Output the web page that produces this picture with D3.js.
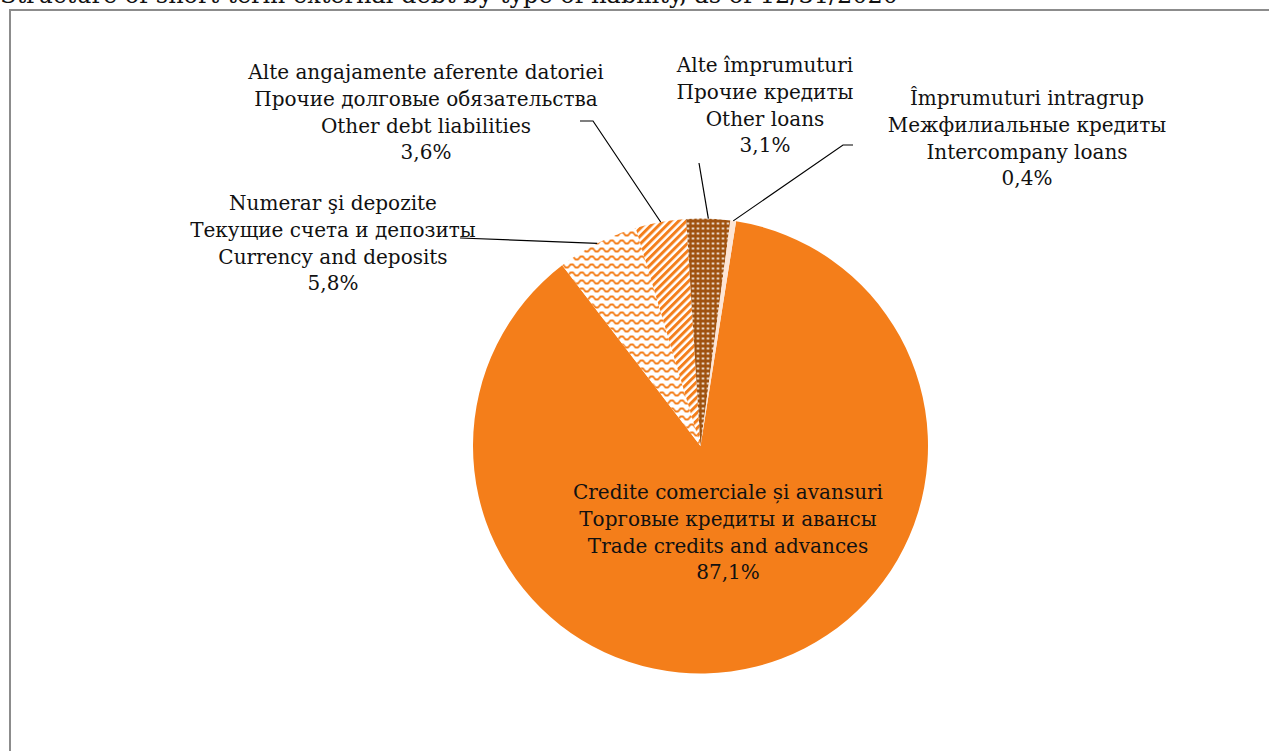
<!DOCTYPE html>
<html>
<head>
<meta charset="utf-8">
<script src="https://cdn.jsdelivr.net/npm/d3@7"></script>
<style>
  html, body { margin: 0; padding: 0; background: #fff; overflow: hidden; }
  svg { display: block; }
  text { font-family: "DejaVu Serif", serif; fill: #111; }
</style>
</head>
<body>
<svg id="chart" width="1269" height="751"></svg>
<script>
// ---- data ----
const categoriesRo = ["Credite comerciale și avansuri", "Numerar şi depozite", "Alte angajamente aferente datoriei", "Alte împrumuturi", "Împrumuturi intragrup"];
const categoriesRu = ["Торговые кредиты и авансы", "Текущие счета и депозиты", "Прочие долговые обязательства", "Прочие кредиты", "Межфилиальные кредиты"];
const categoriesEn = ["Trade credits and advances", "Currency and deposits", "Other debt liabilities", "Other loans", "Intercompany loans"];
const values = [87.1, 5.8, 3.6, 3.1, 0.4];
const valueLabels = ["87,1%", "5,8%", "3,6%", "3,1%", "0,4%"];
const title = "Structure of short-term external debt by type of liability, as of 12/31/2020";

// ---- layout ----
const W = 1269, H = 751;
const cx = 700.5, cy = 446, R = 227.5;
const firstSliceAngle = 9.0 * Math.PI / 180;
const fills = ["#F47E1A", "url(#wave)", "url(#stripes)", "url(#dots)", "#FDE5D5"];
// label centre x, first line centre y, and leader endpoints (elbow, end)
const labelPos = [
  {x: 728, y: 492, inside: true},
  {x: 333, y: 203, elbow: null, end: [460, 238]},
  {x: 426, y: 72, elbow: [593, 121], end: [580, 121]},
  {x: 765, y: 65, elbow: null, end: [699, 163]},
  {x: 1027, y: 98, elbow: [843, 145], end: [853, 145]}
];
const lineH = 26.8;
const fontSize = 20;

const svg = d3.select("#chart");
const defs = svg.append("defs");
const orange = "#F47E1A", brown = "#A0520F";

// wave pattern
const pw = defs.append("pattern").attr("id", "wave").attr("patternUnits", "userSpaceOnUse")
  .attr("width", 10).attr("height", 8);
pw.append("rect").attr("width", 10).attr("height", 8).attr("fill", "#fff");
pw.append("path").attr("d", "M-2.5,5.5 L0,2.5 L2.5,2.5 L5,5.5 L7.5,5.5 L10,2.5 L12.5,2.5")
  .attr("fill", "none").attr("stroke", orange).attr("stroke-width", 1.8);
// stripes pattern
const ps = defs.append("pattern").attr("id", "stripes").attr("patternUnits", "userSpaceOnUse")
  .attr("width", 5.5).attr("height", 5.5).attr("patternTransform", "rotate(45)");
ps.append("rect").attr("width", 5.5).attr("height", 5.5).attr("fill", "#fff");
ps.append("rect").attr("width", 3).attr("height", 5.5).attr("fill", orange);
// dots pattern
const pd = defs.append("pattern").attr("id", "dots").attr("patternUnits", "userSpaceOnUse")
  .attr("width", 5).attr("height", 5);
pd.append("rect").attr("width", 5).attr("height", 5).attr("fill", brown);
pd.append("rect").attr("x", 1.5).attr("y", 1.5).attr("width", 2).attr("height", 2).attr("fill", "#fff");

// title (clipped at top, as in the reference)
svg.append("text").attr("x", 0).attr("y", 3).attr("font-size", 24).text(title);

// frame
svg.append("rect").attr("x", 10).attr("y", 10).attr("width", 1300).attr("height", 800)
  .attr("fill", "none").attr("stroke", "#8C8C8C").attr("stroke-width", 2);

// pie
const pie = d3.pie().sort(null).value(d => d)
  .startAngle(firstSliceAngle).endAngle(firstSliceAngle + 2 * Math.PI);
const arcs = pie(values);
const arc = d3.arc().innerRadius(0).outerRadius(R);
const g = svg.append("g").attr("transform", `translate(${cx},${cy})`);
g.selectAll("path.slice").data(arcs).join("path").attr("class", "slice")
  .attr("d", arc).attr("fill", (d, i) => fills[i]);

// leader lines
arcs.forEach((d, i) => {
  const lp = labelPos[i];
  if (lp.inside) return;
  const mid = (d.startAngle + d.endAngle) / 2;
  const p0 = [cx + R * Math.sin(mid), cy - R * Math.cos(mid)];
  const pts = [p0];
  if (lp.elbow) pts.push(lp.elbow);
  pts.push(lp.end);
  svg.append("path").attr("d", d3.line()(pts)).attr("fill", "none")
    .attr("stroke", "#000").attr("stroke-width", 1.2);
});

// labels
arcs.forEach((d, i) => {
  const lp = labelPos[i];
  const lines = [categoriesRo[i], categoriesRu[i], categoriesEn[i], valueLabels[i]];
  const t = svg.append("text").attr("text-anchor", "middle").attr("font-size", fontSize);
  lines.forEach((s, k) => {
    t.append("tspan").attr("x", lp.x).attr("y", lp.y + k * lineH).attr("dy", "0.35em").text(s);
  });
});
</script>
</body>
</html>
